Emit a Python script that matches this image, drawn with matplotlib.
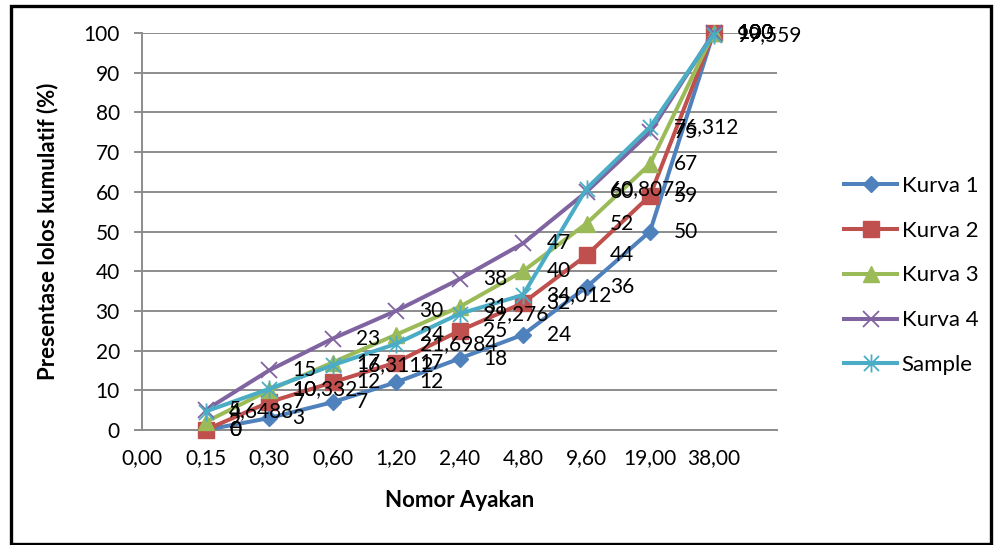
import matplotlib
matplotlib.use("Agg")
import matplotlib.pyplot as plt
import matplotlib.patches as patches
from matplotlib.path import Path
import numpy as np

plt.rcParams["font.family"] = ["Lato", "DejaVu Sans"]

# Data
categories = ["0,00", "0,15", "0,30", "0,60", "1,20", "2,40", "4,80", "9,60", "19,00", "38,00"]
kurva_1 = [0, 3, 7, 12, 18, 24, 36, 50, 100]
kurva_2 = [0, 7, 12, 17, 25, 32, 44, 59, 100]
kurva_3 = [2, 10, 17, 24, 31, 40, 52, 67, 100]
kurva_4 = [5, 15, 23, 30, 38, 47, 60, 75, 100]
sample = [4.6488, 10.332, 16.3112, 21.6984, 29.276, 34.012, 60.8072, 76.312, 99.559]

# asterisk marker: x with a vertical bar
asterisk = Path(
    [(-1, -1), (1, 1), (-1, 1), (1, -1), (0, -1.2), (0, 1.2)],
    [Path.MOVETO, Path.LINETO, Path.MOVETO, Path.LINETO, Path.MOVETO, Path.LINETO],
)

series = [
    ("Kurva 1", kurva_1, "#4F81BD", "D", 8, 1),
    ("Kurva 2", kurva_2, "#C0504D", "s", 12, 1),
    ("Kurva 3", kurva_3, "#9BBB59", "^", 12, 1),
    ("Kurva 4", kurva_4, "#8064A2", "x", 11, 1.3),
    ("Sample", sample, "#4BACC6", asterisk, 13, 1.3),
]

fig = plt.figure(figsize=(9.94, 5.45), dpi=100)
ax = fig.add_axes([142 / 994, 1 - 430 / 545, 635 / 994, 397 / 545])

x = np.arange(1, len(categories))
for name, vals, color, marker, ms, mew in series:
    ax.plot(x, vals, color=color, lw=2.9, marker=marker, markersize=ms,
            markeredgewidth=mew, markeredgecolor=color, markerfacecolor=color,
            label=name, clip_on=False, zorder=3)

# data labels to the right of each point
for name, vals, color, marker, ms, mew in series:
    for xi, v in zip(x, vals):
        txt = f"{v:g}".replace(".", ",")
        ax.annotate(txt, (xi, v), xytext=(17, 0), textcoords="offset points",
                    ha="left", va="center", fontsize=15, color="black",
                    annotation_clip=False, zorder=5)

ax.set_xlim(0, 10)
ax.set_ylim(0, 100)
ax.set_yticks(range(0, 101, 10))
ax.set_xticks(range(len(categories)))
ax.set_xticklabels(categories)

grid_color = "#8C8C8C"
ax.grid(axis="y", color=grid_color, lw=1.4, zorder=0)
ax.set_axisbelow(True)
for s in ["top", "right"]:
    ax.spines[s].set_visible(False)
for s in ["left", "bottom"]:
    ax.spines[s].set_color(grid_color)
    ax.spines[s].set_linewidth(1.4)

ax.tick_params(axis="y", direction="out", length=6, width=1.4, color=grid_color,
               labelsize=15, pad=10)
ax.tick_params(axis="x", length=0, labelsize=15, pad=13)

ax.set_ylabel("Presentase lolos kumulatif (%)", fontsize=16, fontweight="bold")
ax.yaxis.set_label_coords((58 - 142) / 635, 0.5)
ax.set_xlabel("Nomor Ayakan", fontsize=16, fontweight="bold")
ax.xaxis.set_label_coords(0.5, -(490 - 430) / 397)

fig.legend(loc="center left", bbox_to_anchor=(844 / 994, 1 - 275.5 / 545),
           frameon=False, fontsize=16, handlelength=2.4, handletextpad=0.2,
           labelspacing=1.12, borderaxespad=0, borderpad=0)

# outer border
border = patches.Rectangle((11 / 994, 1.5 / 545), 980 / 994, 538 / 545,
                           transform=fig.transFigure, fill=False,
                           edgecolor="black", lw=2.4)
fig.patches.append(border)

fig.savefig("out.png", dpi=100)
